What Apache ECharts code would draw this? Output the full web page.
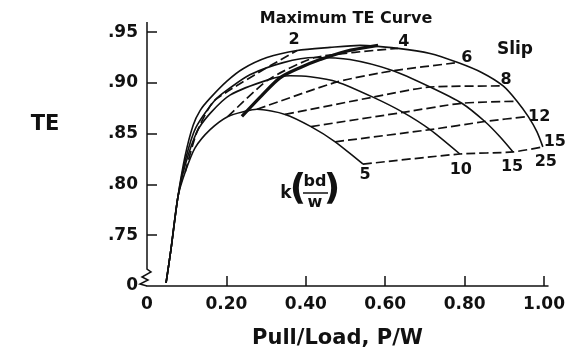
<!DOCTYPE html>
<html>
<head>
<meta charset="utf-8">
<style>
  html, body { margin: 0; padding: 0; background: #fff; }
  #chart { width: 574px; height: 354px; }
</style>
<script src="https://cdn.jsdelivr.net/npm/echarts@6.0.0/dist/echarts.min.js"></script>
</head>
<body>
<div id="chart"></div>
<script>
// TE vs Pull/Load for several mobility numbers k(bd/w), with lines of equal slip

const kValues = [5, 10, 15, 25];

// solid curves, [P/W, TE]
const k5Curve = [[0.048, 0.703], [0.060, 0.735], [0.078, 0.788], [0.096, 0.812], [0.121, 0.836], [0.159, 0.854],
  [0.204, 0.867], [0.247, 0.872], [0.277, 0.874], [0.348, 0.869], [0.413, 0.857], [0.474, 0.842], [0.544, 0.820]];
const k10Curve = [[0.048, 0.703], [0.060, 0.735], [0.078, 0.788], [0.096, 0.819], [0.126, 0.852], [0.159, 0.870],
  [0.209, 0.888], [0.305, 0.903], [0.360, 0.907], [0.411, 0.906], [0.479, 0.901], [0.569, 0.886], [0.645, 0.871],
  [0.713, 0.854], [0.788, 0.830]];
const k15Curve = [[0.048, 0.703], [0.060, 0.735], [0.078, 0.788], [0.098, 0.826], [0.123, 0.856], [0.171, 0.883],
  [0.209, 0.895], [0.259, 0.908], [0.343, 0.920], [0.423, 0.925], [0.511, 0.923], [0.620, 0.912], [0.713, 0.896],
  [0.793, 0.880], [0.851, 0.862], [0.889, 0.847], [0.922, 0.832]];
const k25Curve = [[0.048, 0.703], [0.060, 0.735], [0.078, 0.788], [0.096, 0.828], [0.116, 0.858], [0.134, 0.873],
  [0.159, 0.885], [0.202, 0.902], [0.242, 0.914], [0.302, 0.925], [0.378, 0.932], [0.461, 0.935], [0.537, 0.937],
  [0.632, 0.934], [0.713, 0.929], [0.783, 0.920], [0.844, 0.910], [0.897, 0.897], [0.932, 0.882], [0.960, 0.867],
  [0.982, 0.852], [0.997, 0.837]];

// dashed lines of equal slip (%), crossing k = 5, 10, 15, 25
const slipValues = [2, 4, 6, 8, 10, 12, 15];
const slipText = ['2', '4', '6', '8', '', '12', '15'];
const slip2 = [[0.096, 0.812], [0.126, 0.852], [0.171, 0.883], [0.378, 0.932]];
const slip4 = [[0.204, 0.867], [0.305, 0.903], [0.423, 0.925], [0.632, 0.934]];
const slip6 = [[0.277, 0.874], [0.479, 0.901], [0.620, 0.912], [0.783, 0.920]];
const slip8 = [[0.348, 0.869], [0.569, 0.886], [0.713, 0.896], [0.897, 0.897]];
const slip10 = [[0.413, 0.857], [0.645, 0.871], [0.793, 0.880], [0.932, 0.882]];
const slip12 = [[0.474, 0.842], [0.713, 0.854], [0.851, 0.862], [0.960, 0.867]];
const slip15 = [[0.544, 0.820], [0.788, 0.830], [0.922, 0.832], [0.997, 0.837]];

// thick curve through the peaks
const maxTeCurve = [[0.239, 0.867], [0.290, 0.888], [0.335, 0.905], [0.385, 0.915], [0.436, 0.923],
  [0.499, 0.931], [0.582, 0.937]];

const xTickValues = [0, 0.2, 0.4, 0.6, 0.8, 1.0];
const xTickLabels = ['0', '0.20', '0.40', '0.60', '0.80', '1.00'];
const yTickValues = [0.70, 0.75, 0.80, 0.85, 0.90, 0.95];
const yTickLabels = ['0', '.75', '.80', '.85', '.90', '.95'];

const kCurves = [k5Curve, k10Curve, k15Curve, k25Curve];
const slipLines = [slip2, slip4, slip6, slip8, slip10, slip12, slip15];

// label placement relative to the end point of each curve (px)
const kLabelOffset = [[2, 11], [1, 16], [-1, 15], [3, 15]];
const slipLabelOffset = [[-3, -11], [6, -7], [9, -5], [3, -6], [0, 0], [11, 0], [12, -5]];

const ink = '#111';
const font = 'DejaVu Sans';

const chart = echarts.init(document.getElementById('chart'));

const labelData = [];
kCurves.forEach((c, i) => {
  labelData.push({ value: c[c.length - 1], name: String(kValues[i]), label: { offset: kLabelOffset[i] } });
});
slipLines.forEach((c, i) => {
  if (!slipText[i]) return;
  labelData.push({ value: c[c.length - 1], name: slipText[i], label: { offset: slipLabelOffset[i] } });
});

const series = [];
kCurves.forEach((c, i) => {
  series.push({
    name: 'k ' + kValues[i], type: 'line', data: c, smooth: 0.25, symbol: 'none', silent: true,
    lineStyle: { color: ink, width: 1.6 }, z: 3,
  });
});
slipLines.forEach((c, i) => {
  series.push({
    name: 'slip ' + slipValues[i], type: 'line', data: c, smooth: 0.2, symbol: 'none', silent: true,
    lineStyle: { color: ink, width: 1.7, type: [9, 4] }, z: 2,
  });
});
series.push({
  name: 'Maximum TE', type: 'line', data: maxTeCurve, smooth: 0.3, symbol: 'none', silent: true,
  lineStyle: { color: ink, width: 3.2 }, z: 4,
});
series.push({
  name: 'labels', type: 'scatter', data: labelData, symbolSize: 1, silent: true,
  itemStyle: { color: 'rgba(0,0,0,0)', opacity: 1 },
  label: {
    show: true, position: 'inside', formatter: '{b}', color: ink, opacity: 1,
    fontFamily: font, fontWeight: 'bold', fontSize: 16, textBorderWidth: 0,
  },
  z: 5,
});

chart.setOption({
  animation: false,
  backgroundColor: '#fff',
  grid: { left: 147, top: 22, width: 401, bottom: 68 },
  xAxis: {
    type: 'value', min: 0, max: 1.01,
    name: 'Pull/Load, P/W', nameLocation: 'middle', nameGap: 42,
    nameTextStyle: { color: ink, fontFamily: font, fontWeight: 'bold', fontSize: 21, padding: [0, 20, 0, 0] },
    axisLine: { lineStyle: { color: ink, width: 1.5 } },
    axisTick: { inside: true, length: 10, customValues: xTickValues.slice(1), lineStyle: { color: ink, width: 1.5 } },
    axisLabel: {
      customValues: xTickValues, margin: 10, color: ink, fontFamily: font, fontWeight: 'bold', fontSize: 17,
      formatter: (v) => xTickLabels[xTickValues.findIndex((t) => Math.abs(t - v) < 1e-6)],
    },
    splitLine: { show: false },
  },
  yAxis: {
    type: 'value', min: 0.70, max: 0.96,
    axisLine: { show: false },
    axisTick: { show: true, inside: true, length: 10, customValues: yTickValues.slice(1), lineStyle: { color: ink, width: 1.5 } },
    axisLabel: {
      customValues: yTickValues, margin: 9, color: ink, fontFamily: font, fontWeight: 'bold', fontSize: 17,
      formatter: (v) => yTickLabels[yTickValues.findIndex((t) => Math.abs(t - v) < 1e-6)],
    },
    splitLine: { show: false },
  },
  series: series,
});

// y axis line with the break mark near the origin
const basePt = chart.convertToPixel({ gridIndex: 0 }, [0, 0.70]);
const topPt = chart.convertToPixel({ gridIndex: 0 }, [0, 0.96]);
const bx = basePt[0], by = basePt[1];
const textStyle = (text, size) => ({
  text: text, fill: ink, font: 'bold ' + size + 'px "DejaVu Sans"', textAlign: 'center', textVerticalAlign: 'middle',
});

chart.setOption({
  graphic: [
    {
      type: 'polyline', silent: true,
      shape: { points: [[bx, topPt[1]], [bx, by - 17], [bx + 4, by - 14], [bx - 5, by - 9], [bx + 1, by - 6], [bx - 7, by - 2], [bx, by]] },
      style: { stroke: ink, lineWidth: 1.5, fill: null },
    },
    { type: 'text', x: 45, y: 125, silent: true, style: textStyle('TE', 21) },
    { type: 'text', x: 346, y: 19, silent: true, style: textStyle('Maximum TE Curve', 16) },
    { type: 'text', x: 515, y: 50, silent: true, style: textStyle('Slip', 17) },
    // k(bd/w)
    { type: 'text', x: 286, y: 194, silent: true, style: textStyle('k', 17) },
    { type: 'text', x: 298, y: 190, silent: true, style: textStyle('(', 36) },
    { type: 'text', x: 315, y: 182, silent: true, style: textStyle('bd', 16) },
    { type: 'line', silent: true, shape: { x1: 303, y1: 193, x2: 328, y2: 193 }, style: { stroke: ink, lineWidth: 1.5 } },
    { type: 'text', x: 315, y: 203, silent: true, style: textStyle('w', 16) },
    { type: 'text', x: 332, y: 190, silent: true, style: textStyle(')', 36) },
  ],
});
</script>
</body>
</html>
